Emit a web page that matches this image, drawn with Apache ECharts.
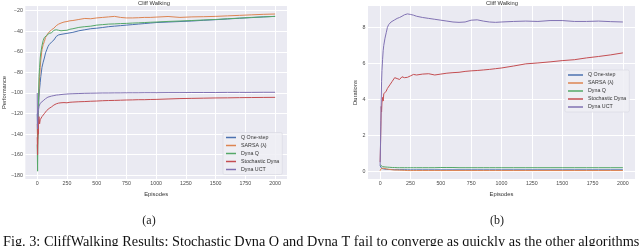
<!DOCTYPE html>
<html><head><meta charset="utf-8">
<script src="https://cdn.jsdelivr.net/npm/echarts@6/dist/echarts.min.js"></script>
<style>html,body{margin:0;padding:0;background:#fff;}#c{width:640px;height:246px;}</style>
</head><body><div id="c"></div>
<script>
const seriesNames = ['Q One-step', 'SARSA (\u03bb)', 'Dyna Q', 'Stochastic Dyna', 'Dyna UCT'];
const colors = ['#4C72B0', '#DD8452', '#55A868', '#C44E52', '#8172B3'];
const episodes = [0,3,6,9,12,15,20,25,30,40,50,60,70,80,90,100,120,140,160,180,200,225,250,275,300,350,400,450,500,550,600,650,700,750,800,850,900,950,1000,1100,1200,1300,1400,1500,1600,1700,1800,1900,2000];
const xTicks = [0,250,500,750,1000,1250,1500,1750,2000];
const perfTicks = [-180,-160,-140,-120,-100,-80,-60,-40,-20];
const durTicks = [0,2,4,6,8];

// (a) Performance
const perfQ = [-120,-145,-140,-125,-112,-104,-96,-90,-84,-75,-70,-66,-61,-58,-55,-53,-50.5,-48.5,-45,-43.5,-43,-42.5,-42,-41.5,-41,-39.5,-38.5,-37.5,-37,-36.3,-35.5,-35,-34.5,-34,-33.5,-33,-32.5,-32,-31.5,-31,-30.5,-30,-29.3,-28.7,-28,-27.3,-26.7,-26,-25.5];
const perfSarsa = [-130,-150,-135,-115,-105,-95,-85,-75,-68,-58,-53,-50,-46,-44,-42,-40.5,-38.5,-37,-34.5,-33,-32,-31,-30.5,-29.8,-29.5,-28.5,-27.5,-27.8,-27,-26.5,-26,-25.5,-26.5,-27,-27,-26.8,-26.5,-26.5,-26.2,-25.6,-26.5,-26,-25.8,-25.5,-25,-24.5,-24,-23.5,-23.2];
const perfDynaQ = [-150,-176,-140,-120,-100,-84,-75,-66,-61,-54,-49,-46,-45,-44,-43,-42,-41.5,-39,-38.5,-39,-39.5,-39.2,-39,-38,-37.5,-36.2,-35.5,-35,-34,-33.5,-33,-32.8,-32.5,-32.3,-32,-31.8,-31.5,-31.2,-31,-30.4,-30,-29.5,-29,-28.5,-27.8,-27.2,-26.5,-26,-25.5];
const perfStoch = [-143,-160,-130,-140,-125,-123,-130,-126,-127,-123,-124,-120,-119,-117,-116,-115,-113.5,-111.7,-110.5,-109.8,-109.5,-109.3,-109.5,-109,-108.8,-108.5,-108.3,-108,-107.8,-107.5,-107.3,-107.2,-107,-106.8,-106.7,-106.5,-106.5,-106.3,-106.2,-105.8,-105.4,-105.2,-105,-104.8,-104.7,-104.5,-104.4,-104.3,-104.2];
const perfUCT = [-100,-135,-123,-118,-115,-113,-112,-110,-109.5,-108.5,-107.5,-106.5,-105.5,-104.5,-104,-103.5,-103,-102.5,-102,-101.8,-101.5,-101.2,-101,-100.8,-100.7,-100.5,-100.3,-100.2,-100.1,-100,-100,-99.9,-99.9,-99.8,-99.8,-99.8,-99.7,-99.7,-99.7,-99.6,-99.6,-99.5,-99.5,-99.5,-99.4,-99.4,-99.4,-99.3,-99.3];

// (b) Durations
const durQ = [0.3,0.25,0.2,0.17,0.15,0.14,0.13,0.12,0.12,0.11,0.1,0.1,0.09,0.09,0.09,0.09,0.08,0.08,0.08,0.08,0.08,0.07,0.07,0.07,0.07,0.07,0.07,0.07,0.07,0.07,0.07,0.07,0.07,0.07,0.07,0.07,0.07,0.07,0.07,0.07,0.07,0.07,0.07,0.07,0.07,0.07,0.07,0.07,0.07];
const durSarsa = [0.02,0.05,0.1,0.15,0.2,0.22,0.2,0.18,0.16,0.14,0.12,0.11,0.1,0.09,0.08,0.07,0.06,0.06,0.05,0.05,0.04,0.03,0.03,0.03,0.03,0.03,0.03,0.03,0.03,0.03,0.03,0.03,0.03,0.03,0.03,0.03,0.03,0.03,0.03,0.03,0.03,0.03,0.03,0.03,0.03,0.03,0.03,0.03,0.03];
const durDynaQ = [0.35,0.32,0.3,0.28,0.27,0.26,0.25,0.24,0.24,0.23,0.22,0.22,0.21,0.21,0.2,0.2,0.2,0.19,0.19,0.19,0.19,0.19,0.19,0.19,0.19,0.19,0.19,0.19,0.2,0.2,0.2,0.19,0.19,0.19,0.19,0.19,0.19,0.19,0.19,0.19,0.19,0.19,0.19,0.19,0.19,0.19,0.19,0.19,0.19];
const durStoch = [0.5,1.4,2.5,3.6,3.3,3.8,4.1,3.9,4.3,4.2,4.45,4.6,4.7,4.8,4.9,5.0,5.2,5.15,5.1,5.25,5.2,5.22,5.3,5.38,5.35,5.4,5.42,5.35,5.4,5.45,5.48,5.5,5.55,5.58,5.6,5.63,5.66,5.7,5.74,5.85,5.97,6.02,6.08,6.15,6.2,6.3,6.38,6.47,6.58];
const durUCT = [0.3,1.5,2.8,4.0,5.0,5.6,6.2,6.7,7.0,7.4,7.7,8.0,8.15,8.25,8.3,8.35,8.42,8.5,8.55,8.62,8.7,8.75,8.72,8.68,8.62,8.55,8.5,8.45,8.4,8.35,8.3,8.28,8.3,8.4,8.42,8.35,8.3,8.28,8.3,8.33,8.35,8.33,8.38,8.38,8.33,8.33,8.35,8.32,8.3];

const perfData = [perfQ, perfSarsa, perfDynaQ, perfStoch, perfUCT];
const durData = [durQ, durSarsa, durDynaQ, durStoch, durUCT];

const FONT = 'Liberation Sans';
const TICK_FS = 5.3;
const LBL_FS = 5.8;
const tickColor = '#4a4a4a';
const minusFmt = v => String(v).replace('-', '\u2212');
const plainFmt = v => String(v);

function mkSeries(arrs, gi) {
  return arrs.map((vals, i) => ({
    name: seriesNames[i], type: 'line', xAxisIndex: gi, yAxisIndex: gi,
    showSymbol: false, symbol: 'none', animation: false,
    lineStyle: { width: 1, color: colors[i] }, itemStyle: { color: colors[i] },
    data: episodes.map((e, k) => [e, vals[k]])
  }));
}
function xAx(gi) {
  return {
    type: 'value', gridIndex: gi, min: -100, max: 2100,
    name: 'Episodes', nameLocation: 'middle', nameGap: 7,
    nameTextStyle: { fontFamily: FONT, fontSize: LBL_FS, color: '#333' },
    axisLine: { show: false },
    axisTick: { show: false, customValues: xTicks },
    axisLabel: { customValues: xTicks, fontFamily: FONT, fontSize: TICK_FS, color: tickColor, margin: 2, formatter: plainFmt },
    splitLine: { show: true, lineStyle: { color: '#ffffff', width: 1 } }
  };
}
function yAx(gi, min, max, ticks, name, gap) {
  return {
    type: 'value', gridIndex: gi, min: min, max: max,
    name: name, nameLocation: 'middle', nameGap: gap,
    nameTextStyle: { fontFamily: FONT, fontSize: LBL_FS, color: '#333' },
    axisLine: { show: false },
    axisTick: { show: false, customValues: ticks },
    axisLabel: { customValues: ticks, fontFamily: FONT, fontSize: TICK_FS, color: tickColor, margin: 2.5, formatter: minusFmt },
    splitLine: { show: true, lineStyle: { color: '#ffffff', width: 1 } }
  };
}
function legend(left, top, iw) {
  return {
    orient: 'vertical', left: left, top: top,
    data: seriesNames.map((n, i) => ({ name: n, itemStyle: { color: colors[i], borderWidth: 0 } })),
    icon: 'rect', itemWidth: iw, itemHeight: 1.5, itemGap: 0,
    padding: [1, 3, 1, 3],
    itemStyle: { borderWidth: 0 },
    backgroundColor: 'rgba(238,238,245,0.85)', borderColor: '#d6d6e0', borderWidth: 0.6, borderRadius: 1.5,
    textStyle: { fontFamily: FONT, fontSize: TICK_FS, color: '#333', lineHeight: 8 },
    selectedMode: false
  };
}

const chart = echarts.init(document.getElementById('c'), null, { renderer: 'canvas' });
chart.setOption({
  animation: false,
  backgroundColor: '#ffffff',
  title: [
    { text: 'Cliff Walking', left: 154, top: 0.5, textAlign: 'center', padding: 0,
      textStyle: { fontFamily: FONT, fontSize: LBL_FS, fontWeight: 'normal', color: '#333' } },
    { text: 'Cliff Walking', left: 502, top: 0.5, textAlign: 'center', padding: 0,
      textStyle: { fontFamily: FONT, fontSize: LBL_FS, fontWeight: 'normal', color: '#333' } }
  ],
  grid: [
    { left: 21, top: 6, width: 266, height: 173, show: true, backgroundColor: '#EAEAF2', borderWidth: 0 },
    { left: 368, top: 6, width: 267, height: 173, show: true, backgroundColor: '#EAEAF2', borderWidth: 0 }
  ],
  xAxis: [xAx(0), xAx(1)],
  yAxis: [
    yAx(0, -183.6, -15.4, perfTicks, 'Performance', 15),
    yAx(1, -0.44, 9.19, durTicks, 'Durations', 7.5)
  ],
  legend: [legend(223, 132.5, 10), legend(565, 70, 15)],
  series: mkSeries(perfData, 0).concat(mkSeries(durData, 1)),
  graphic: [
    { type: 'text', x: 149, y: 221, style: { text: '(a)', font: '12px "Liberation Serif"', fill: '#222', align: 'center', verticalAlign: 'middle' } },
    { type: 'text', x: 497, y: 221, style: { text: '(b)', font: '12px "Liberation Serif"', fill: '#222', align: 'center', verticalAlign: 'middle' } },
    { type: 'text', x: 3, y: 235, style: { text: 'Fig. 3: CliffWalking Results: Stochastic Dyna Q and Dyna T fail to converge as quickly as the other algorithms', font: '14.3px "Liberation Serif"', fill: '#111', align: 'left', verticalAlign: 'top' } }
  ]
});
</script>
</body></html>
